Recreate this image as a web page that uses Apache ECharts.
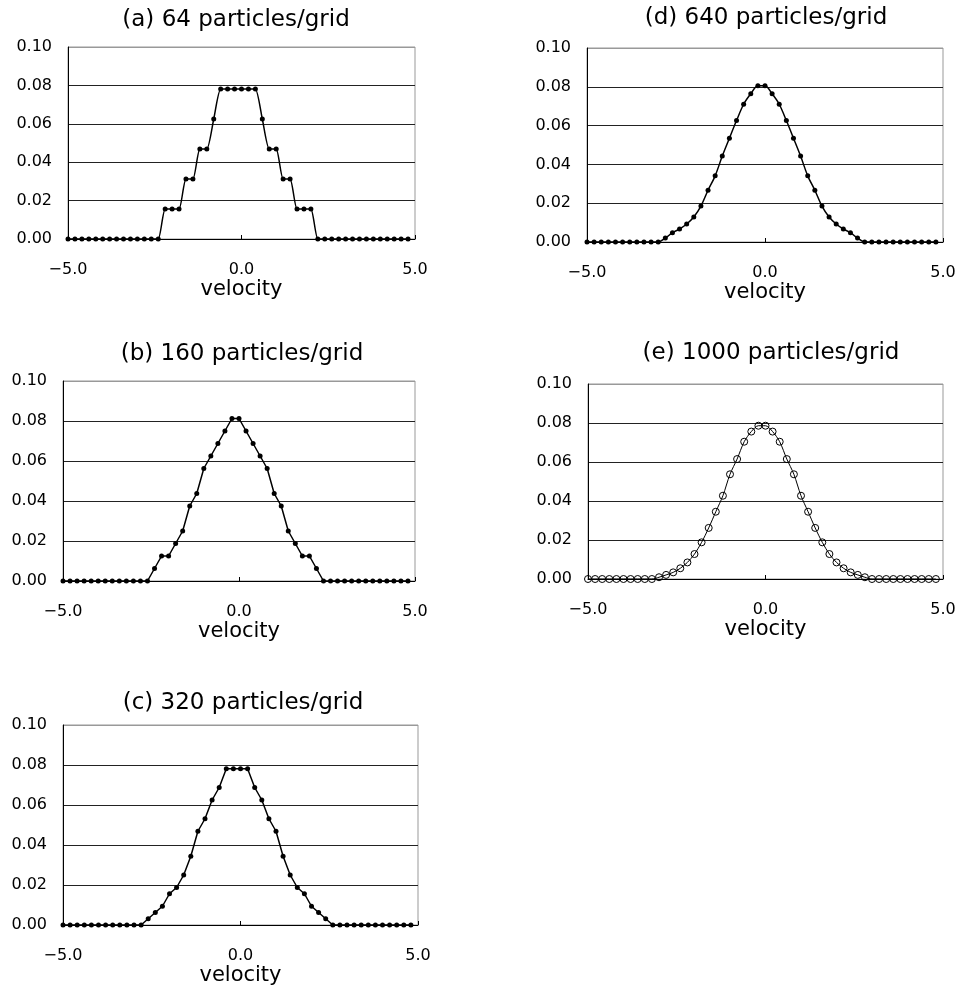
<!DOCTYPE html>
<html>
<head>
<meta charset="utf-8">
<script src="https://cdn.jsdelivr.net/npm/echarts@6/dist/echarts.min.js"></script>
<style>
html,body{margin:0;padding:0;background:#fff;}
#chart{width:959px;height:992px;}
</style>
</head>
<body>
<div id="chart"></div>
<script>
// velocity bins (x values)
var velocity = [-5.0,-4.8,-4.6,-4.4,-4.2,-4.0,-3.8,-3.6,-3.4,-3.2,
  -3.0,-2.8,-2.6,-2.4,-2.2,-2.0,-1.8,-1.6,-1.4,-1.2,
  -1.0,-0.8,-0.6,-0.4,-0.2,0.0,0.2,0.4,0.6,0.8,
  1.0,1.2,1.4,1.6,1.8,2.0,2.2,2.4,2.6,2.8,
  3.0,3.2,3.4,3.6,3.8,4.0,4.2,4.4,4.6,4.8];

var titles = ['(a) 64 particles/grid','(b) 160 particles/grid','(c) 320 particles/grid','(d) 640 particles/grid','(e) 1000 particles/grid'];
var xTicks = [-5.0, 0.0, 5.0];
var yTicks = [0.00, 0.02, 0.04, 0.06, 0.08, 0.10];
var xName = 'velocity';

var series64 = [0,0,0,0,0,0,0,0,0,0,0,0,0,0,
  0.015625,0.015625,0.015625,0.03125,0.03125,0.046875,0.046875,0.0625,
  0.078125,0.078125,0.078125,0.078125,0.078125,0.078125,
  0.0625,0.046875,0.046875,0.03125,0.03125,0.015625,0.015625,0.015625,
  0,0,0,0,0,0,0,0,0,0,0,0,0,0];

var series160 = [0,0,0,0,0,0,0,0,0,0,0,0,0,
  0.00625,0.0125,0.0125,0.01875,0.025,0.0375,0.04375,0.05625,0.0625,0.06875,0.075,0.08125,
  0.08125,0.075,0.06875,0.0625,0.05625,0.04375,0.0375,0.025,0.01875,0.0125,0.0125,0.00625,
  0,0,0,0,0,0,0,0,0,0,0,0,0];

var series320 = [0,0,0,0,0,0,0,0,0,0,0,0,
  0.003125,0.00625,0.009375,0.015625,0.01875,0.025,0.034375,0.046875,0.053125,0.0625,0.06875,
  0.078125,0.078125,0.078125,0.078125,
  0.06875,0.0625,0.053125,0.046875,0.034375,0.025,0.01875,0.015625,0.009375,0.00625,0.003125,
  0,0,0,0,0,0,0,0,0,0,0,0];

var series640 = [0,0,0,0,0,0,0,0,0,0,0,
  0.002,0.0048,0.0067,0.0093,0.0129,0.0185,0.0267,0.0341,0.0443,0.0535,0.0626,0.0710,0.0764,0.0805,
  0.0805,0.0764,0.0710,0.0626,0.0535,0.0443,0.0341,0.0267,0.0185,0.0129,0.0093,0.0067,0.0048,0.002,
  0,0,0,0,0,0,0,0,0,0,0];

var series1000 = [0,0,0,0,0,0,0,0,0,0,
  0.0009,0.0021,0.0034,0.0055,0.0085,0.0128,0.0188,0.0262,0.0345,0.0427,0.0537,0.0615,0.0704,0.0756,0.0786,
  0.0786,0.0756,0.0704,0.0615,0.0537,0.0427,0.0345,0.0262,0.0188,0.0128,0.0085,0.0055,0.0034,0.0021,0.0009,
  0,0,0,0,0,0,0,0,0,0];

var allSeries = [series64, series160, series320, series640, series1000];

// layout (pixels)
var grids = [
  {left:68, top:47, width:347, height:192},
  {left:63, top:381, width:352, height:200},
  {left:63, top:725, width:355, height:200},
  {left:587, top:48, width:356, height:194},
  {left:588, top:384, width:355, height:195}
];
var titlePos = [[236,9],[242,343],[243,692],[766,7],[771,342]];
var smoothOn = [0.2, false, false, 0.3, 0.3];

var FONT = 'DejaVu Sans';
var option = {
  backgroundColor:'#fff',
  animation:false,
  title:[], grid:[], xAxis:[], yAxis:[], series:[]
};

for (var k=0;k<5;k++){
  option.title.push({
    text: titles[k], left: titlePos[k][0], top: titlePos[k][1], textAlign:'center', padding:0,
    textStyle:{fontFamily:FONT, fontSize:23, fontWeight:'normal', color:'#000'}
  });
  option.grid.push(Object.assign({show:true, borderColor:'#999', borderWidth:1, backgroundColor:'transparent', containLabel:false}, grids[k]));
  option.xAxis.push({
    type:'value', gridIndex:k, min:xTicks[0], max:xTicks[2], interval:5,
    name:xName, nameLocation:'middle', nameGap:34,
    nameTextStyle:{fontFamily:FONT, fontSize:21, color:'#000'},
    axisLine:{show:true, onZero:false, lineStyle:{color:'#000', width:1}},
    axisTick:{show:true, inside:true, length:4, lineStyle:{color:'#000'}},
    axisLabel:{fontFamily:FONT, fontSize:16, color:'#000', margin:23,
      formatter:function(v){ return (v<0?'\u2212':'') + Math.abs(v).toFixed(1); }},
    splitLine:{show:false}
  });
  option.yAxis.push({
    type:'value', gridIndex:k, min:yTicks[0], max:yTicks[5], interval:0.02,
    axisLine:{show:true, onZero:false, lineStyle:{color:'#000', width:1}},
    axisTick:{show:false},
    axisLabel:{fontFamily:FONT, fontSize:16, color:'#000', margin:16,
      formatter:function(v){ return v.toFixed(2); }},
    splitLine:{show:true, lineStyle:{color:['#000','#222','#222','#222','#222','#999'], width:1}}
  });
  var data = [];
  for (var i=0;i<velocity.length;i++) data.push([velocity[i], allSeries[k][i]]);
  var isE = (k===4);
  option.series.push({
    type:'line', xAxisIndex:k, yAxisIndex:k, data:data,
    smooth:smoothOn[k],
    symbol:'circle', symbolSize: isE ? 7 : 5,
    lineStyle:{color:'#000', width: isE ? 1 : 1.5},
    itemStyle: isE ? {color:'rgba(255,255,255,0)', borderColor:'#000', borderWidth:1} : {color:'#000'},
    z: 3
  });
}

var chart = echarts.init(document.getElementById('chart'));
chart.setOption(option);
</script>
</body>
</html>
